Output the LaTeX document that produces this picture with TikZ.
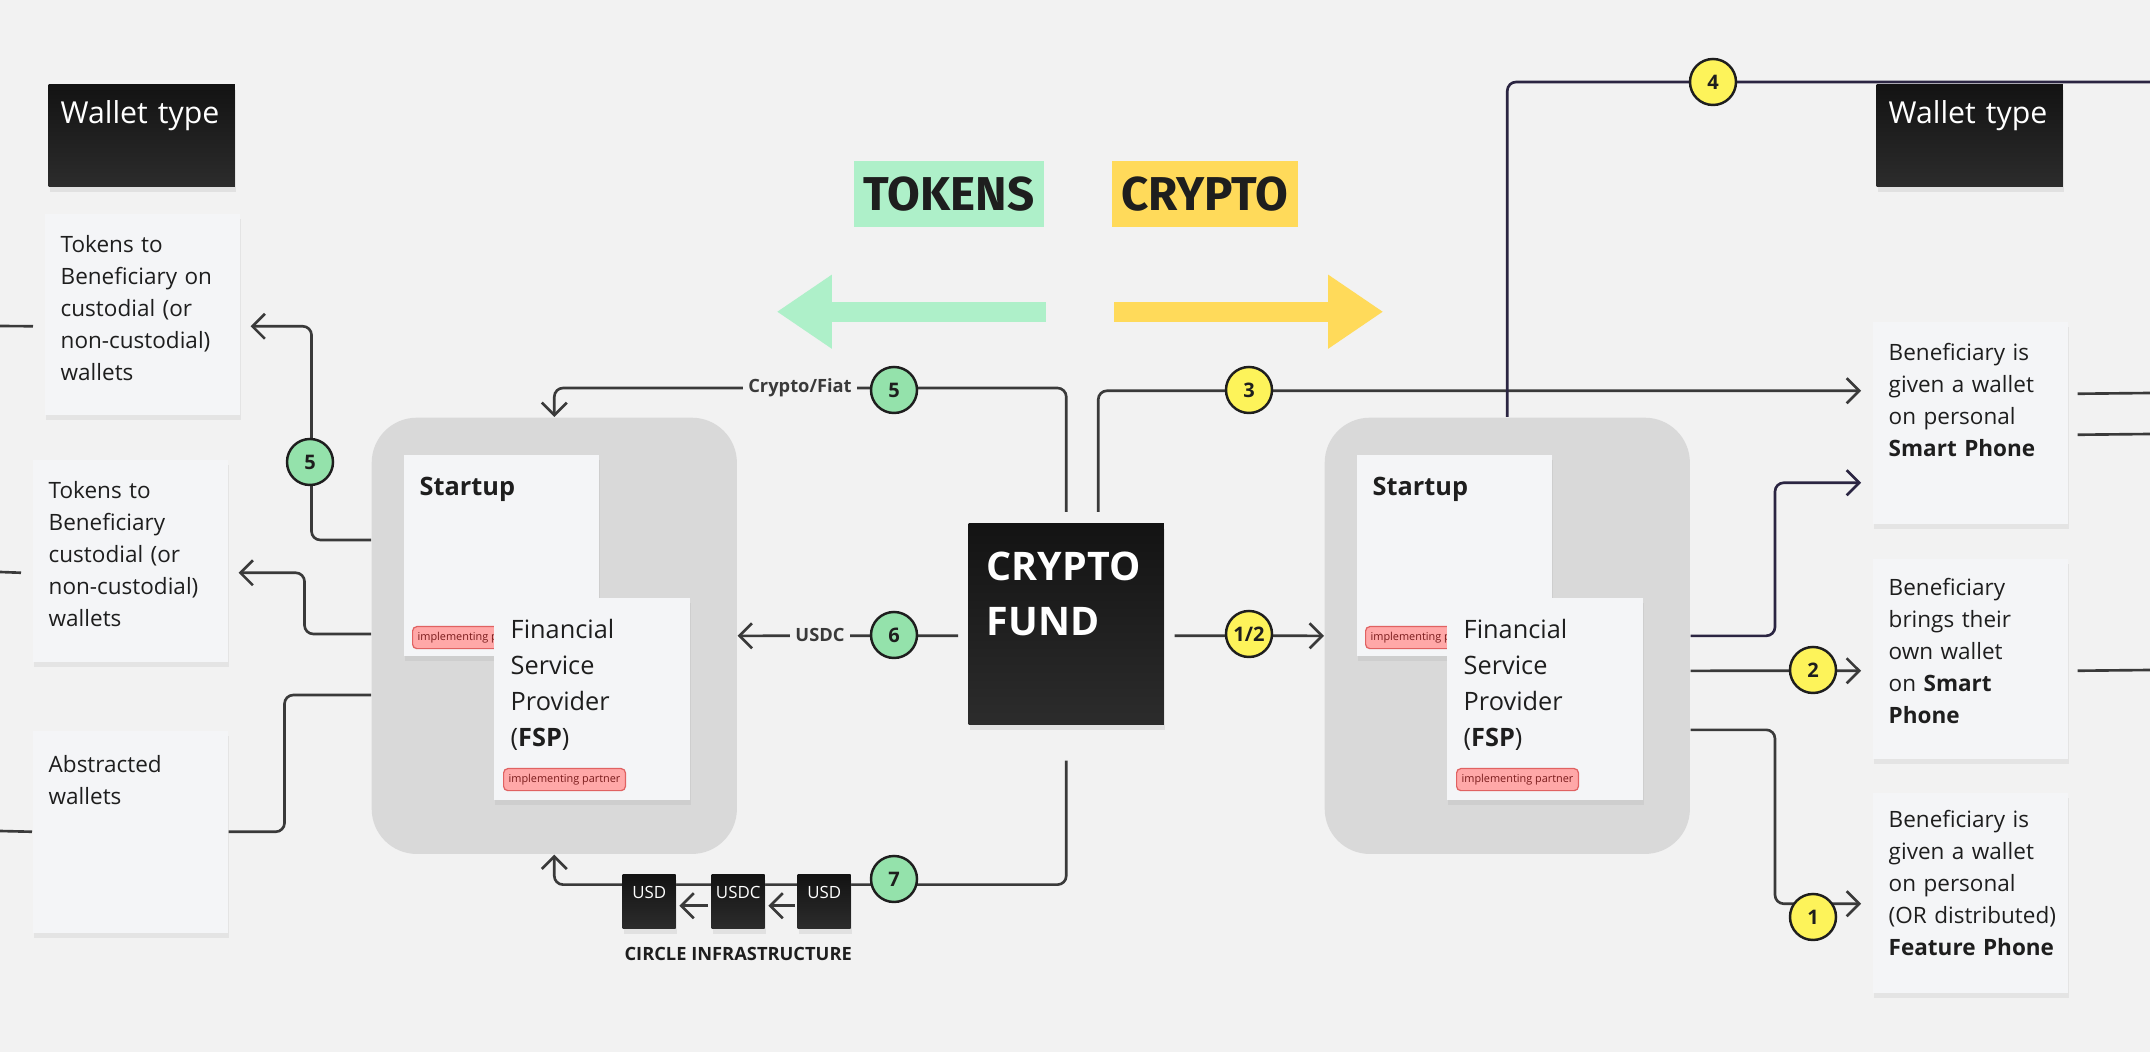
\documentclass[tikz,border=0pt]{standalone}
\usepackage{fontspec}
\setmainfont{Open Sans}
\newfontfamily\headfont{Fira Sans}
\usepackage{xcolor}
\definecolor{canvas}{HTML}{F2F2F2}
\definecolor{notebg}{HTML}{F4F5F7}
\definecolor{grpgray}{HTML}{D9D9D9}
\definecolor{inkdark}{HTML}{1E1E1E}
\definecolor{linegray}{HTML}{3A3A3A}
\definecolor{linenavy}{HTML}{2B2542}
\definecolor{boxtop}{HTML}{131313}
\definecolor{boxbot}{HTML}{2C2C2C}
\definecolor{mintgreen}{HTML}{AEF0C9}
\definecolor{sunyellow}{HTML}{FFDA5A}
\definecolor{badgegreen}{HTML}{94E2AB}
\definecolor{badgeyellow}{HTML}{FDF35A}
\definecolor{tagfill}{HTML}{FFA8A8}
\definecolor{tagline}{HTML}{E06262}
\definecolor{tagtext}{HTML}{7A1C1C}
\usetikzlibrary{arrows.meta,positioning,calc,shadows}
\hyphenpenalty=10000
\exhyphenpenalty=10000
\newcommand{\notefont}{\fontsize{6.4}{9.1}\selectfont}
\newcommand{\fspfont}{\fontsize{7.2}{10.24}\selectfont}
\newcommand{\startfont}{\fontsize{7.2}{9}\selectfont}
\newcommand{\walletfont}{\fontsize{8.6}{10}\selectfont}
\newcommand{\fundfont}{\bfseries\fontsize{11.2}{15.6}\selectfont}
\newcommand{\badgefont}{\bfseries\fontsize{5.7}{6.5}\selectfont}
\newcommand{\lblfont}{\bfseries\fontsize{5.2}{6}\selectfont}
\newcommand{\tagfont}{\fontsize{3.1}{3.6}\selectfont}
\newcommand{\usdfont}{\fontsize{4.8}{5.5}\selectfont}

\begin{document}
\begin{tikzpicture}[x=0.01cm,y=-0.01cm]
  \tikzstyle{note}=[rectangle,fill=notebg,anchor=north west,inner xsep=0.16cm,inner ysep=0pt,text width=1.63cm,align=left,text=inkdark,font=\notefont,drop shadow={opacity=0.12,shadow xshift=0.4pt,shadow yshift=-1.4pt}]
  \tikzstyle{darkbox}=[rectangle,top color=boxtop,bottom color=boxbot,anchor=north west,text=white,align=left,drop shadow={opacity=0.15,shadow xshift=0.4pt,shadow yshift=-1.4pt}]
  \tikzstyle{grpbox}=[rectangle,rounded corners=0.45cm,fill=grpgray,anchor=north west,minimum width=3.65cm,minimum height=4.36cm,inner sep=0pt]
  \tikzstyle{tagbox}=[rectangle,rounded corners=1.2pt,fill=tagfill,draw=tagline,line width=0.35pt,anchor=north west,text=tagtext,font=\tagfont,minimum height=0.22cm,inner xsep=0.05cm,inner ysep=0pt]
  \tikzstyle{badge}=[circle,draw=inkdark,line width=0.7pt,minimum size=0.46cm,inner sep=0pt,font=\badgefont,text=inkdark]
  \tikzstyle{flowlbl}=[fill=canvas,inner xsep=0.05cm,inner ysep=1pt,font=\lblfont,text=linegray]
  \tikzstyle{conn}=[draw=linegray,line width=0.75pt,rounded corners=2.5pt]
  \tikzstyle{flow}=[conn,-{Straight Barb[length=1.25mm,width=2.5mm]}]
  \tikzstyle{bigarrow}=[line width=0.2cm,-{Triangle[length=0.55cm,width=0.7cm]}]
  \tikzstyle{hilite}=[rectangle,minimum height=0.66cm,inner sep=0pt,font=\headfont\bfseries\fontsize{13.5}{14}\selectfont,text=inkdark]

  \useasboundingbox (0,0) rectangle (2150,1052);
  \fill[canvas] (0,0) rectangle (2150,1052);

  \node[hilite,fill=mintgreen,minimum width=1.9cm] (tokens) at (949,194) {TOKENS};
  \node[hilite,fill=sunyellow,minimum width=1.86cm] (crypto) at (1205,194) {CRYPTO};
  \draw[bigarrow,mintgreen] ([shift={(1,84)}]tokens.south east) -- ++(-269,0);
  \draw[bigarrow,sunyellow] ([shift={(3,84)}]crypto.south west) -- ++(269,0);

  \node[darkbox,text width=1.62cm,inner xsep=0.12cm,inner ysep=0pt,text height=0.39cm,text depth=0.63cm,font=\walletfont] (walletL) at (48,84) {Wallet type};
  \node[darkbox,text width=1.62cm,inner xsep=0.12cm,inner ysep=0pt,text height=0.39cm,text depth=0.63cm,font=\walletfont] (walletR) at (1876,84) {Wallet type};

  \node[note,text height=0.39cm,text depth=1.62cm] (tokL1) at (44,213) {Tokens to\\Beneficiary on\\custodial (or\\non-custodial)\\wallets};
  \node[note,text height=0.39cm,text depth=1.63cm] (tokL2) at (32,459) {Tokens to\\Beneficiary\\custodial (or\\non-custodial)\\wallets};
  \node[note,text height=0.42cm,text depth=1.60cm] (absL) at (32,730) {Abstracted\\wallets};

  \node[grpbox] (grpL) at (371,417) {};
  \node[note,text height=0.41cm,text depth=1.60cm,font=\startfont] (startL) at ([shift={(32,37)}]grpL.north west) {\textbf{Startup}};
  \node[tagbox] (tagSL) at ([shift={(9,172)}]startL.north west) {implementing partner};
  \node[note,inner xsep=0.17cm,text width=1.62cm,text height=0.41cm,text depth=1.61cm,font=\fspfont] (fspL) at ([shift={(122,180)}]grpL.north west) {Financial\\Service\\Provider\\(\textbf{FSP})};
  \node[tagbox] (tagFL) at ([shift={(10,171)}]fspL.north west) {implementing partner};

  \node[darkbox,text width=1.59cm,inner xsep=0.18cm,inner ysep=0pt,text height=0.57cm,text depth=1.44cm,font=\fundfont] (fund) at (968,523) {CRYPTO\\FUND};

  \node[grpbox] (grpR) at (1324,417) {};
  \node[note,text height=0.41cm,text depth=1.60cm,font=\startfont] (startR) at ([shift={(32,37)}]grpR.north west) {\textbf{Startup}};
  \node[tagbox] (tagSR) at ([shift={(9,172)}]startR.north west) {implementing partner};
  \node[note,inner xsep=0.17cm,text width=1.62cm,text height=0.41cm,text depth=1.61cm,font=\fspfont] (fspR) at ([shift={(122,180)}]grpR.north west) {Financial\\Service\\Provider\\(\textbf{FSP})};
  \node[tagbox] (tagFR) at ([shift={(10,171)}]fspR.north west) {implementing partner};

  \node[note,text height=0.39cm,text depth=1.63cm] (noteA) at (1872,321) {Beneficiary is\\given a wallet\\on personal\\\textbf{Smart Phone}};
  \node[note,text height=0.37cm,text depth=1.63cm] (noteB) at (1872,558) {Beneficiary\\brings their\\own wallet\\on \textbf{Smart}\\\textbf{Phone}};
  \node[note,text height=0.35cm,text depth=1.65cm] (noteC) at (1872,792) {Beneficiary is\\given a wallet\\on personal\\(OR~distributed)\\\textbf{Feature~Phone}};

  \coordinate (inL1) at (0,326);
  \coordinate (inL2) at (0,572);
  \coordinate (inL3) at (0,831);
  \coordinate (outR4) at (2150,82);
  \coordinate (outA1) at (2150,393);
  \coordinate (outA2) at (2150,434);
  \coordinate (outB) at (2150,670);

  % left side
  \draw[conn] (inL1) -- ([shift={(-11,12)}]tokL1.west);
  \draw[conn] (inL2) -- ([shift={(-11,12)}]tokL2.west);
  \draw[conn] (inL3) -- (absL.west);
  \draw[flow] ($(grpL.north west)+(0,123)$) -| ($(tokL1.east)+(71,12)$) -- ([shift={(10,12)}]tokL1.east);
  \draw[flow] ($(grpL.north west)+(0,217)$) -| ($(tokL2.east)+(76,12)$) -- ([shift={(10,12)}]tokL2.east);
  \draw[conn] (absL.east) -- ++(56,0) |- ($(grpL.north west)+(0,278)$);

  % fund
  \draw[flow] ([shift={(0,-11)}]fund.north) |- ($(grpL.north)+(0,-29)$) -- (grpL.north);
  \draw[flow] ([shift={(-10,11.5)}]fund.west) -- (grpL.east);
  \draw[flow] ([shift={(0,35)}]fund.south) |- ($(grpL.south)+(0,30)$) -- (grpL.south);
  \draw[flow] ([shift={(10,11.5)}]fund.east) -- (grpR.west);
  \draw[flow] ([shift={(32,-11)}]fund.north) |- ([shift={(-11,-32)}]noteA.west);
  \draw[conn,draw=linenavy] (grpR.north) |- (outR4);

  % right side
  \draw[flow,draw=linenavy] (grpR.east) -| ($(noteA.west)+(-97,60)$) -- ([shift={(-11,60)}]noteA.west);
  \draw[flow] ($(grpR.east)+(0,35)$) -- ([shift={(-11,12)}]noteB.west);
  \draw[flow] ($(grpR.east)+(0,94)$) -| ($(noteC.west)+(-97,11)$) -- ([shift={(-11,11)}]noteC.west);
  \draw[conn] ([shift={(9,-29)}]noteA.east) -- (outA1);
  \draw[conn] ([shift={(9,12)}]noteA.east) -- (outA2);
  \draw[conn] ([shift={(9,12)}]noteB.east) -- (outB);

  \node[flowlbl] (lblCF) at (800,388) {Crypto/Fiat};
  \node[flowlbl] (lblUSDC) at (820,635) {USDC};

  \node[badge,fill=badgegreen] (b5L) at (310,462) {5};
  \node[badge,fill=badgegreen] (b5T) at (894,390) {5};
  \node[badge,fill=badgegreen] (b6) at (894,635) {6};
  \node[badge,fill=badgegreen] (b7) at (894,879) {7};
  \node[badge,fill=badgeyellow] (b3) at (1249,390) {3};
  \node[badge,fill=badgeyellow] (b12) at (1249,634) {1/2};
  \node[badge,fill=badgeyellow] (b4) at (1713,82) {4};
  \node[badge,fill=badgeyellow] (b2) at (1813,670) {2};
  \node[badge,fill=badgeyellow] (b1) at (1813,917) {1};

  \node[darkbox,minimum width=0.53cm,text width=0.53cm,align=center,inner sep=0pt,text height=0.24cm,text depth=0.30cm,font=\usdfont] (usdR) at (797,874) {USD};
  \node[darkbox,minimum width=0.53cm,text width=0.53cm,align=center,inner sep=0pt,text height=0.24cm,text depth=0.30cm,font=\usdfont] (usdC) at (711,874) {USDC};
  \node[darkbox,minimum width=0.53cm,text width=0.53cm,align=center,inner sep=0pt,text height=0.24cm,text depth=0.30cm,font=\usdfont] (usdL) at (622,874) {USD};
  \draw[flow] ([shift={(-2,4)}]usdR.west) -- ([shift={(3,4)}]usdC.east);
  \draw[flow] ([shift={(-3,4)}]usdC.west) -- ([shift={(3,4)}]usdL.east);
  \node[font=\lblfont,text=inkdark] (circinfra) at ($(usdC.south)+(0,25)$) {CIRCLE INFRASTRUCTURE};
\end{tikzpicture}
\end{document}
